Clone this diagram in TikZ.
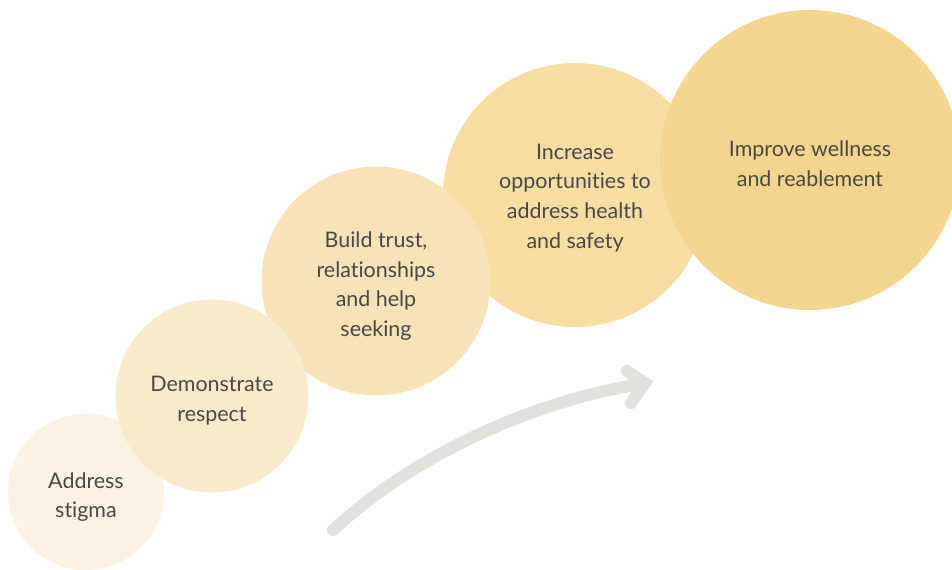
\documentclass[tikz,border=0pt]{standalone}
\usepackage{fontspec}
\setmainfont{Lato}[Ligatures={NoCommon,NoContextual}]
\usetikzlibrary{calc}
\usetikzlibrary{positioning}

\definecolor{bubbleA}{HTML}{FCF2E1}
\definecolor{bubbleB}{HTML}{FAEACC}
\definecolor{bubbleC}{HTML}{F8E3B8}
\definecolor{bubbleD}{HTML}{F6DDA2}
\definecolor{bubbleE}{HTML}{F4D58D}
\definecolor{arrowgrey}{HTML}{E3E1DB}
\definecolor{textgrey}{HTML}{4A4846}

\tikzset{
  bubble/.style={circle,inner sep=0pt},
  caption/.style={align=center,inner sep=0pt,text=textgrey,
    font=\fontsize{12.2}{17}\selectfont},
  growline/.style={draw=arrowgrey,line width=0.24cm,line cap=round},
}

\begin{document}
\begin{tikzpicture}[x=0.02cm,y=-0.02cm]
\useasboundingbox (0,0) rectangle (952,570);
\clip (0,0) rectangle (952,570);
% circles, back to front
\node[bubble,fill=bubbleD,minimum size=5.28cm] (opportunities) at (575,195) {};
\node[bubble,fill=bubbleE,minimum size=6cm] (wellness) at (810,160) {};
\node[bubble,fill=bubbleC,minimum size=4.58cm] (trust) at (376,281) {};
\node[bubble,fill=bubbleA,minimum size=3.12cm] (stigma) at (86,492) {};
\node[bubble,fill=bubbleB,minimum size=3.86cm] (respect) at (212,396) {};
% texts
\node[caption] (stigmatext) at ($(stigma)+(0,5)$) {Address\\stigma};
\node[caption] (respecttext) at ($(respect)+(0,5)$) {Demonstrate\\respect};
\node[caption] (trusttext) at ($(trust)+(0,5)$) {Build trust,\\relationships\\and help\\seeking};
\node[caption] (opportunitiestext) at ($(opportunities)+(0,3)$) {Increase\\opportunit\kern0pt ies to\\address health\\and safety};
\node[caption] (wellnesstext) at ($(wellness)+(0,4)$) {Improve wellness\\and reablement};
% growth arrow
\coordinate (tail) at (333,530);
\coordinate (head) at (641,384);
\coordinate (tip) at (645,383);
\draw[growline] (tail) .. controls (420,450) and (540,400) .. (head);
\draw[growline,line join=miter] ($(tip)+(-18,-12)$) -- (tip) -- ($(tip)+(-14,20)$);
\end{tikzpicture}
\end{document}
